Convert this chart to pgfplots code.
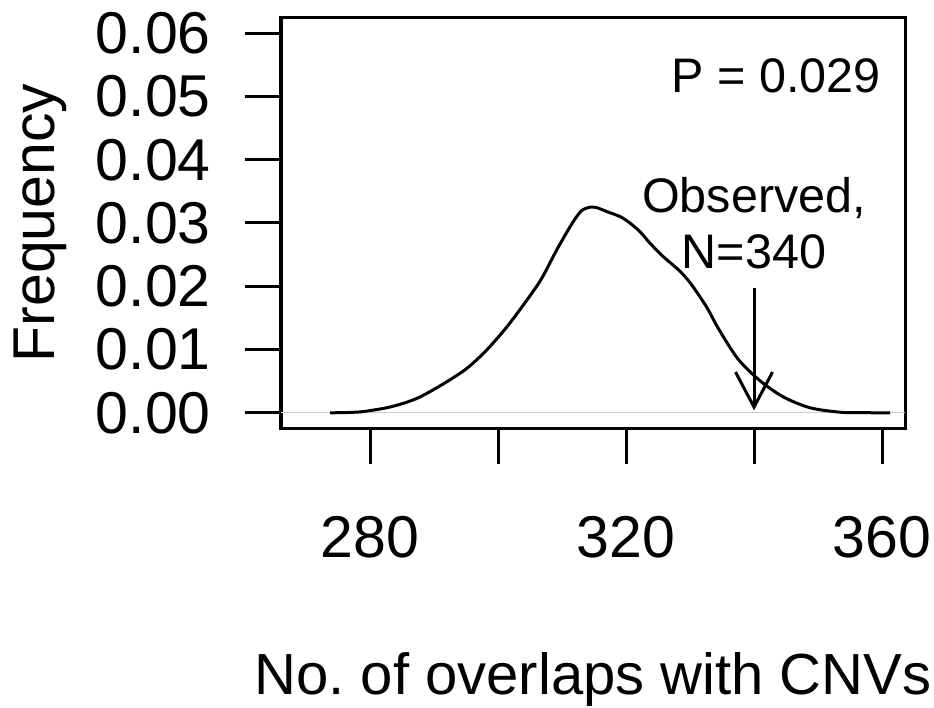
\documentclass[border=0pt]{standalone}
\usepackage{fontspec}
\setmainfont{Liberation Sans}
\usepackage{pgfplots}
\pgfplotsset{compat=1.18}
\usetikzlibrary{arrows.meta}
\newcommand{\bigfnt}{\fontsize{59}{64}\selectfont}
\newcommand{\labfnt}{\fontsize{58}{64}\selectfont}
\newcommand{\midfnt}{\fontsize{48.5}{54}\selectfont}
\frenchspacing
\begin{document}
\begin{tikzpicture}
\begin{axis}[
  at={(281pt,279pt)}, anchor=south west,
  scale only axis, width=624pt, height=410pt,
  xmin=266.09, xmax=363.59, ymin=-0.0024, ymax=0.0624,
  clip=false,
  scaled y ticks=false, scaled x ticks=false,
  axis line style={line width=3pt, black},
  tick pos=left, tick align=outside,
  major tick length=36pt,
  every tick/.style={black, line width=3pt},
  xtick={280,300,320,340,360},
  xticklabels={280,,320,,360},
  ytick={0,0.01,0.02,0.03,0.04,0.05,0.06},
  yticklabels={0.00,0.01,0.02,0.03,0.04,0.05,0.06},
  /pgf/number format/assume math mode=true,
  ticklabel style={font=\bigfnt},
  yticklabel style={anchor=east, inner sep=0pt, xshift=-34pt},
  xticklabel style={anchor=north, inner sep=0pt, yshift=-52pt},
  xlabel={No.\ of overlaps with CNVs},
  ylabel={Frequency},
  xlabel style={font=\labfnt, at={(axis description cs:0.5,-0.6512)}, anchor=base},
  ylabel style={font=\bigfnt, at={(axis description cs:-0.3622,0.5)}, anchor=base},
]
\addplot[gray!40, line width=1pt] coordinates {(266.09,0) (363.59,0)};
\addplot[black, line width=3pt, smooth] coordinates {
(273.75,0) (276.5,0.00005) (279,0.0002) (282.6,0.0008) (285.2,0.0015)
(287.8,0.0025) (291.5,0.0046) (295.1,0.0070) (298.2,0.0099) (301.4,0.0136)
(304.5,0.0178) (306.8,0.0212) (309.2,0.0258) (311.5,0.0298) (313,0.0319)
(314.4,0.0325) (315.5,0.0324) (317.0,0.0318) (319.1,0.0310) (320.6,0.0300)
(322.2,0.0286) (323.75,0.0268) (325.8,0.0247) (328.4,0.0224) (330.2,0.0203)
(332.6,0.0167) (334.5,0.0132) (337.5,0.0085) (340.9,0.0051) (344.6,0.0025)
(348.75,0.0008) (353.4,0.0001) (357,0.00002) (361.25,0)
};
\addplot[black, line width=3pt, -{Straight Barb[length=35pt, width=37pt, line width=3pt]}] coordinates {(340,0.0197) (340,0.0004)};
\node[font=\midfnt, anchor=base east, inner sep=0pt] at (axis cs:359.8,0.05067) {P = 0.029};
\node[font=\midfnt, anchor=base, inner sep=0pt] at (axis cs:340,0.03170) {Observed,};
\node[font=\midfnt, anchor=base, inner sep=0pt] at (axis cs:340,0.02285) {N=340};
\end{axis}
\pgfresetboundingbox
\path[use as bounding box] (0,0) rectangle (934pt,707pt);
\end{tikzpicture}
\end{document}
